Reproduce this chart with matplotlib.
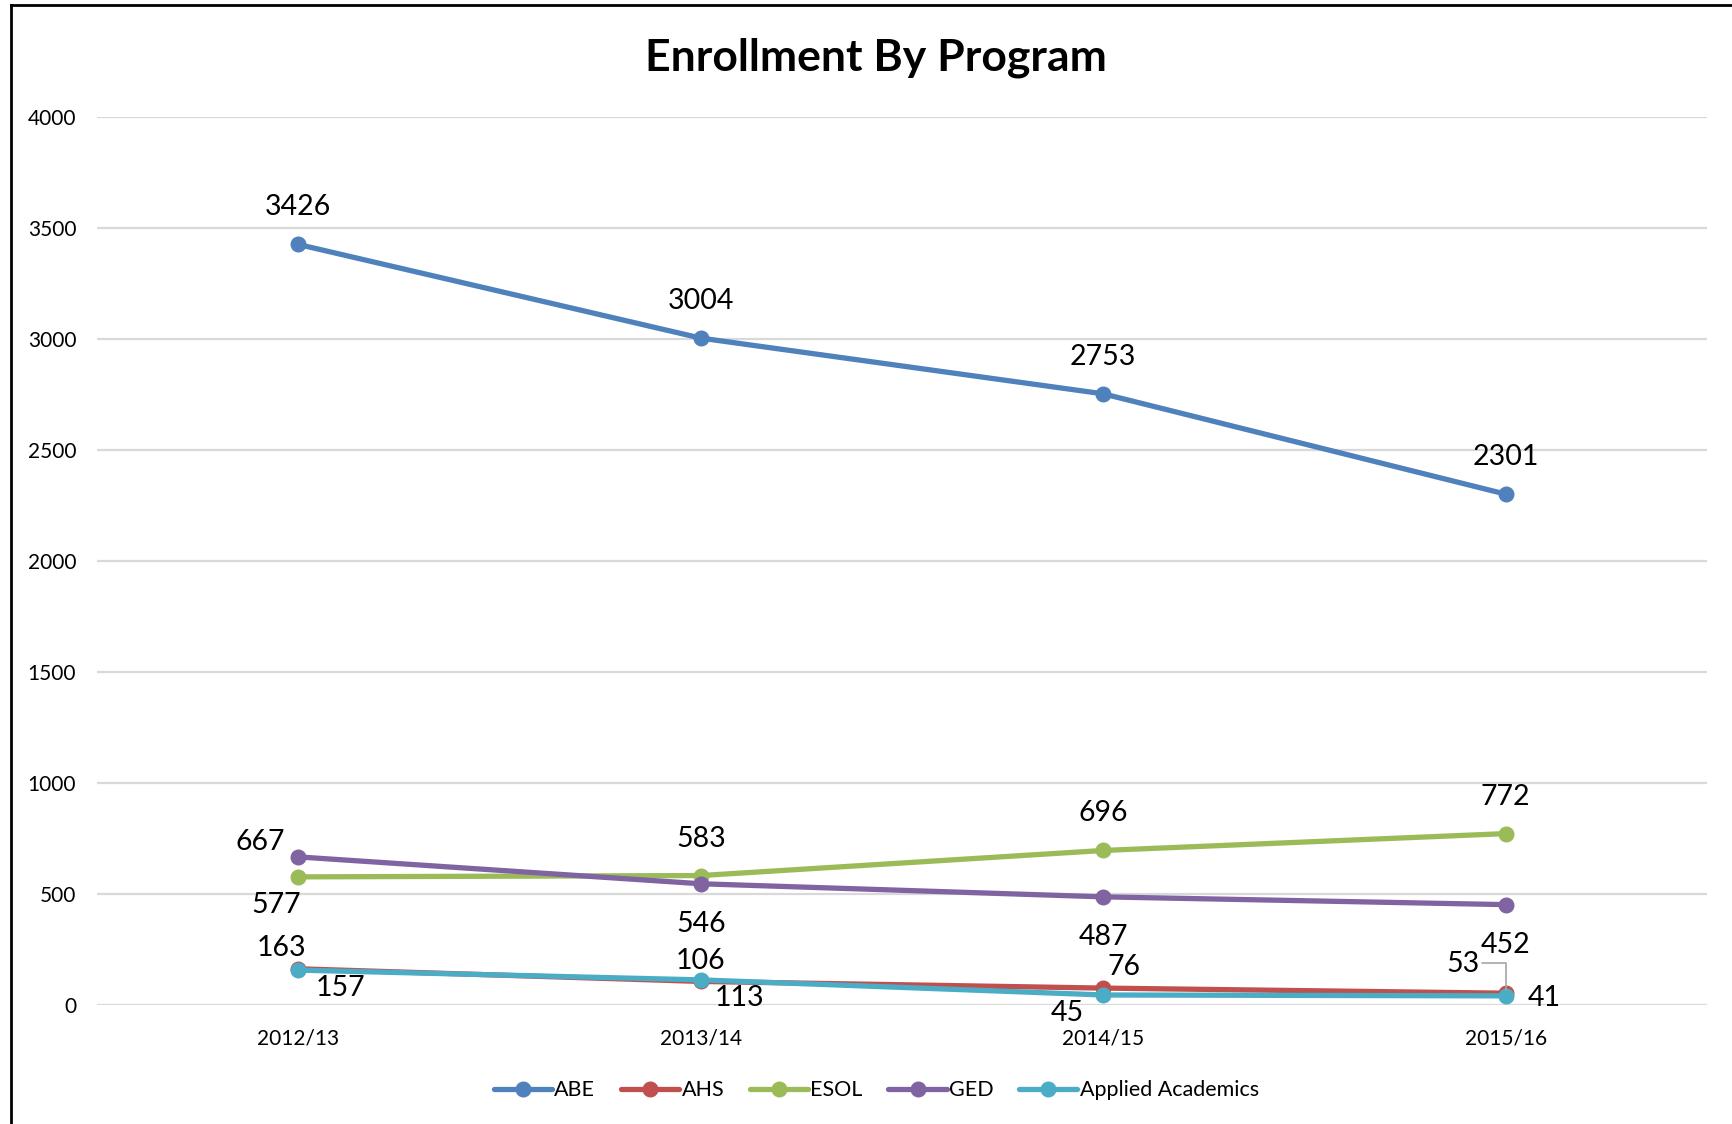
import matplotlib.pyplot as plt
from matplotlib.lines import Line2D

plt.rcParams['font.family'] = ['Lato', 'DejaVu Sans']

# datos
years = ['2012/13', '2013/14', '2014/15', '2015/16']
abe = [3426, 3004, 2753, 2301]
ahs = [163, 106, 76, 53]
esol = [577, 583, 696, 772]
ged = [667, 546, 487, 452]
applied = [157, 113, 45, 41]

series_names = ['ABE', 'AHS', 'ESOL', 'GED', 'Applied Academics']
series_values = [abe, ahs, esol, ged, applied]
colors = ['#4F81BD', '#C0504D', '#9BBB59', '#8064A2', '#4BACC6']

# desplazamiento de etiquetas (pixeles) por serie y punto
label_offsets = {
    'ABE': [(0, 37), (0, 37), (0, 37), (0, 37)],
    'AHS': [(-17, 21), (0, 20), (21, 21), (-43, 29)],
    'ESOL': [(-22, -28), (0, 37), (0, 37), (0, 37)],
    'GED': [(-38, 15), (0, -40), (0, -40), (0, -40)],
    'Applied Academics': [(42, -18), (39, -18), (-36, -18), (38, -2)],
}

fig = plt.figure(figsize=(17.32, 11.24), dpi=100)
ax = fig.add_axes([0.056, 0.1059, 0.9296, 0.79])

x = list(range(len(years)))
for name, vals, col in zip(series_names, series_values, colors):
    ax.plot(x, vals, color=col, linewidth=3.8, marker='o', markersize=10.5,
            label=name, zorder=3, solid_capstyle='round')
    for i, v in enumerate(vals):
        dx, dy = label_offsets[name][i]
        kw = {}
        if name == 'AHS' and i == 3:
            kw['arrowprops'] = dict(arrowstyle='-', color='#A6A6A6', lw=1.2,
                                    connectionstyle='angle,angleA=0,angleB=90,rad=0',
                                    shrinkA=0, shrinkB=2,
                                    relpos=(1.0, 0.55))
        ax.annotate(str(v), (i, v), xytext=(dx, dy), textcoords='offset pixels',
                    ha='center', va='center', fontsize=20.5, color='black',
                    zorder=5, **kw)

ax.set_xlim(-0.5, 3.5)
ax.set_ylim(0, 4000)
ax.set_yticks(range(0, 4001, 500))
ax.set_xticks(x)
ax.set_xticklabels(years)
ax.tick_params(axis='both', length=0, labelsize=15)
ax.tick_params(axis='y', pad=15)
ax.tick_params(axis='x', pad=17)
ax.grid(axis='y', color='#D9D9D9', linewidth=1.6)
ax.set_axisbelow(True)
for s in ax.spines.values():
    s.set_visible(False)

fig.text(0.506, 0.949, 'Enrollment By Program', ha='center', va='center',
         fontsize=32, fontweight='bold')

fig.legend(loc='center', bbox_to_anchor=(0.506, 0.030), ncol=5, frameon=False,
           fontsize=15.5, handlelength=2.7, columnspacing=1.2, handletextpad=0.1)

# borde del grafico (izquierda y arriba)
fig.add_artist(Line2D([11 / 1732, 11 / 1732], [0, 1 - 5 / 1124], color='black',
                      linewidth=2, transform=fig.transFigure))
fig.add_artist(Line2D([11 / 1732, 1], [1 - 5 / 1124, 1 - 5 / 1124], color='black',
                      linewidth=2, transform=fig.transFigure))

fig.savefig('out.png', dpi=100)
